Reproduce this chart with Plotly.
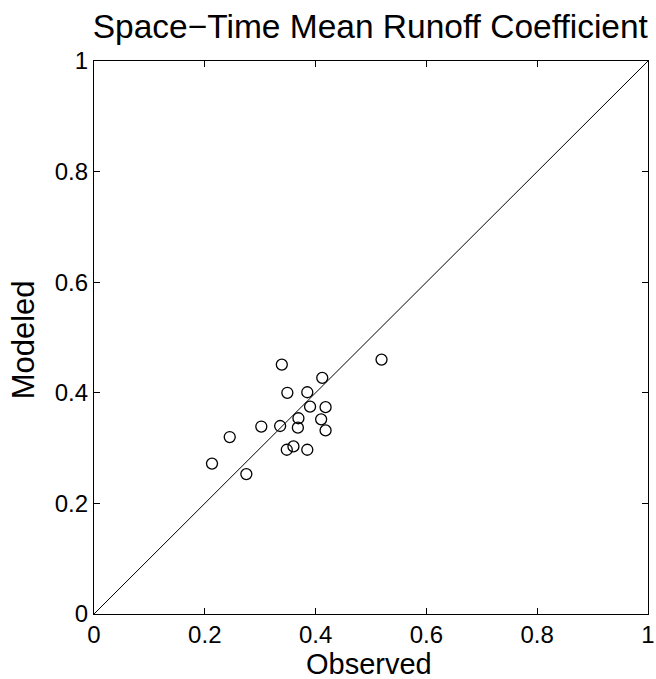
import plotly.graph_objects as go

observed = [0.339, 0.519, 0.412, 0.349, 0.385, 0.390, 0.418, 0.369, 0.410, 0.302,
            0.336, 0.368, 0.418, 0.245, 0.360, 0.348, 0.385, 0.213, 0.275]
modeled = [0.451, 0.460, 0.427, 0.400, 0.401, 0.375, 0.374, 0.354, 0.352, 0.339,
           0.340, 0.337, 0.332, 0.320, 0.303, 0.297, 0.297, 0.272, 0.253]
tick_vals = [0, 0.2, 0.4, 0.6, 0.8, 1]
tick_text = ["0", "0.2", "0.4", "0.6", "0.8", "1"]
line_vals = [0, 1]

font = "Liberation Sans, Arial, Helvetica, sans-serif"

fig = go.Figure()
fig.add_trace(go.Scatter(x=line_vals, y=line_vals, mode="lines",
                         line=dict(color="black", width=1), hoverinfo="skip"))
fig.add_trace(go.Scatter(x=observed, y=modeled, mode="markers",
                         marker=dict(symbol="circle-open", size=11, color="black",
                                     line=dict(width=1.3, color="black"))))

axis_common = dict(range=[0, 1], tickvals=tick_vals, ticktext=tick_text,
                   ticks="inside", ticklen=6, tickcolor="black", tickwidth=1,
                   showline=True, linecolor="black", linewidth=1.3, mirror="ticks",
                   showgrid=False, zeroline=False, automargin=False,
                   tickfont=dict(family=font, size=24, color="black"))

fig.update_layout(
    width=656, height=679,
    margin=dict(l=94, r=8, t=61, b=65),
    paper_bgcolor="white", plot_bgcolor="white",
    showlegend=False,
    title=dict(text="Space\u2212Time Mean Runoff Coefficient", x=0.5645, xanchor="center",
               y=0.962, yanchor="middle",
               font=dict(family=font, size=33.5, color="black")),
    xaxis=dict(**axis_common, ticklabelstandoff=-1),
    yaxis=dict(**axis_common, ticklabelstandoff=0),
    annotations=[
        dict(text="Observed", xref="paper", yref="paper", x=0.4955, y=-0.090,
             xanchor="center", yanchor="middle", showarrow=False,
             font=dict(family=font, size=29, color="black")),
        dict(text="Modeled", xref="paper", yref="paper", x=-0.128, y=0.495,
             xanchor="center", yanchor="middle", textangle=-90, showarrow=False,
             font=dict(family=font, size=31, color="black")),
    ],
)

fig.write_html("out.html")
